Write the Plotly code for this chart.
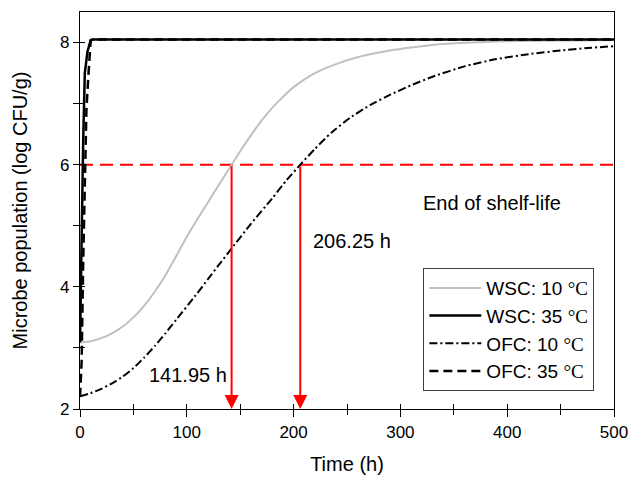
import plotly.graph_objects as go

# ---------------- data ----------------
wsc10_t = [0, 10, 20, 30, 40, 50, 60, 70, 80, 90, 100, 110, 120, 130, 141.95, 150, 160, 170,
           180, 190, 200, 215, 230, 245, 260, 275, 290, 310, 330, 360, 390, 430, 470, 500]
wsc10_y = [3.09, 3.11, 3.16, 3.24, 3.35, 3.50, 3.69, 3.92, 4.19, 4.50, 4.82, 5.11, 5.39,
           5.67, 6.00, 6.22, 6.48, 6.72, 6.93, 7.11, 7.27, 7.45, 7.58, 7.68, 7.76, 7.82,
           7.87, 7.92, 7.96, 7.995, 8.015, 8.03, 8.035, 8.04]

ofc10_t = [0, 10, 20, 30, 40, 50, 60, 70, 80, 90, 106, 120, 130, 141.95, 160, 180, 193.6,
           206.25, 220, 235, 253, 272, 291, 310, 330, 360, 390, 420, 450, 475, 500]
ofc10_y = [2.21, 2.26, 2.33, 2.42, 2.53, 2.67, 2.84, 3.03, 3.24, 3.46, 3.81, 4.13, 4.36,
           4.63, 5.03, 5.45, 5.75, 6.00, 6.26, 6.52, 6.77, 6.98, 7.15, 7.30, 7.44, 7.61,
           7.73, 7.81, 7.87, 7.91, 7.94]

wsc35_t = [0, 1, 2, 3, 4.5, 7, 10, 12, 500]
wsc35_y = [3.09, 4.30, 5.50, 6.40, 7.50, 7.85, 8.04, 8.05, 8.05]

ofc35_t = [0, 1.5, 3, 4.5, 6, 8, 9, 10, 12, 500]
ofc35_y = [2.20, 2.76, 4.40, 6.00, 6.90, 7.50, 7.80, 8.03, 8.05, 8.05]

shelf_limit = 6
shelf_t = [0, 500]
end_times = [141.95, 206.25]
end_labels = ["141.95 h", "206.25 h"]

x_range = [0, 500]
y_range = [2, 8.5]

FONT = "Liberation Sans, Arial, sans-serif"


def lab(name, temp):
    return f"{name}: {temp} <span style=\"font-family:'Liberation Serif'\">°C</span>"


fig = go.Figure()

fig.add_trace(go.Scatter(x=shelf_t, y=[shelf_limit] * len(shelf_t), mode="lines",
                         line=dict(color="#ff0000", width=2, dash="13px,7px"),
                         showlegend=False, hoverinfo="skip"))

fig.add_trace(go.Scatter(x=wsc10_t, y=wsc10_y, mode="lines", name=lab("WSC", 10),
                         line=dict(color="#c0c0c0", width=2, shape="spline", smoothing=0.5)))
fig.add_trace(go.Scatter(x=wsc35_t, y=wsc35_y, mode="lines", name=lab("WSC", 35),
                         line=dict(color="black", width=2.5)))
fig.add_trace(go.Scatter(x=ofc10_t, y=ofc10_y, mode="lines", name=lab("OFC", 10),
                         line=dict(color="black", width=2, dash="8px,3px,2px,3px",
                                   shape="spline", smoothing=0.5)))
fig.add_trace(go.Scatter(x=ofc35_t, y=ofc35_y, mode="lines", name=lab("OFC", 35),
                         line=dict(color="black", width=2.5, dash="9px,5px")))

# invisible trace on the overlay axes so they get drawn
fig.add_trace(go.Scatter(x=x_range, y=y_range, xaxis="x2", yaxis="y2", mode="lines",
                         line=dict(width=0), showlegend=False, hoverinfo="skip", opacity=0))

# red arrows
for t in end_times:
    fig.add_annotation(x=t, y=y_range[0], ax=t, ay=shelf_limit, xref="x", yref="y",
                       axref="x", ayref="y", showarrow=True, arrowhead=2, arrowsize=1.4,
                       arrowwidth=2, arrowcolor="#ff0000", text="")

fig.add_annotation(x=end_times[0], y=2.56, text=end_labels[0], showarrow=False,
                   xanchor="right", xshift=-3, font=dict(family=FONT, size=20, color="black"))
fig.add_annotation(x=end_times[1], y=4.75, text=end_labels[1], showarrow=False,
                   xanchor="left", xshift=11, font=dict(family=FONT, size=20, color="black"))
fig.add_annotation(x=386, y=5.38, text="End of shelf-life", showarrow=False,
                   font=dict(family=FONT, size=20, color="black"))

axis_common = dict(showgrid=False, zeroline=False, linecolor="black", linewidth=1.3,
                   tickcolor="black", tickwidth=1.2, automargin=False)

fig.update_layout(
    width=630, height=481,
    margin=dict(l=80, r=16, t=12, b=72),
    paper_bgcolor="white", plot_bgcolor="white",
    font=dict(family=FONT, color="black", size=17),
    xaxis=dict(range=x_range, dtick=100, ticks="outside", ticklen=7, mirror=True,
               showline=True, tickfont=dict(size=17),
               minor=dict(dtick=50, ticks="outside", ticklen=5, tickcolor="black", tickwidth=1.2),
               title=dict(text="Time (h)", font=dict(size=20), standoff=16),
               **axis_common),
    yaxis=dict(range=y_range, tickvals=[2, 4, 6, 8], ticks="outside", ticklen=6, mirror=True,
               showline=True, tickfont=dict(size=17),
               minor=dict(dtick=1, ticks="outside", ticklen=6, tickcolor="black", tickwidth=1.2),
               title=dict(text="Microbe population (log CFU/g)", font=dict(size=20), standoff=26),
               **axis_common),
    xaxis2=dict(range=x_range, overlaying="x", anchor="y", side="bottom", matches="x",
                showticklabels=False, dtick=50, ticks="inside", ticklen=5, showline=False,
                showgrid=False, zeroline=False, tickcolor="black", tickwidth=1.2,
                automargin=False),
    yaxis2=dict(range=y_range, overlaying="y", anchor="x", side="left", matches="y",
                showticklabels=False, dtick=1, ticks="inside", ticklen=5, showline=False,
                showgrid=False, zeroline=False, tickcolor="black", tickwidth=1.2,
                automargin=False),
    legend=dict(x=0.643, y=0.355, xanchor="left", yanchor="top",
                bordercolor="#404040", borderwidth=1, bgcolor="white",
                font=dict(family=FONT, size=19, color="black"),
                itemwidth=52, tracegroupgap=0),
    showlegend=True,
)

fig.write_html("out.html", config={"displayModeBar": False},
               post_script="document.body.style.margin='0';document.body.style.padding='0';")
